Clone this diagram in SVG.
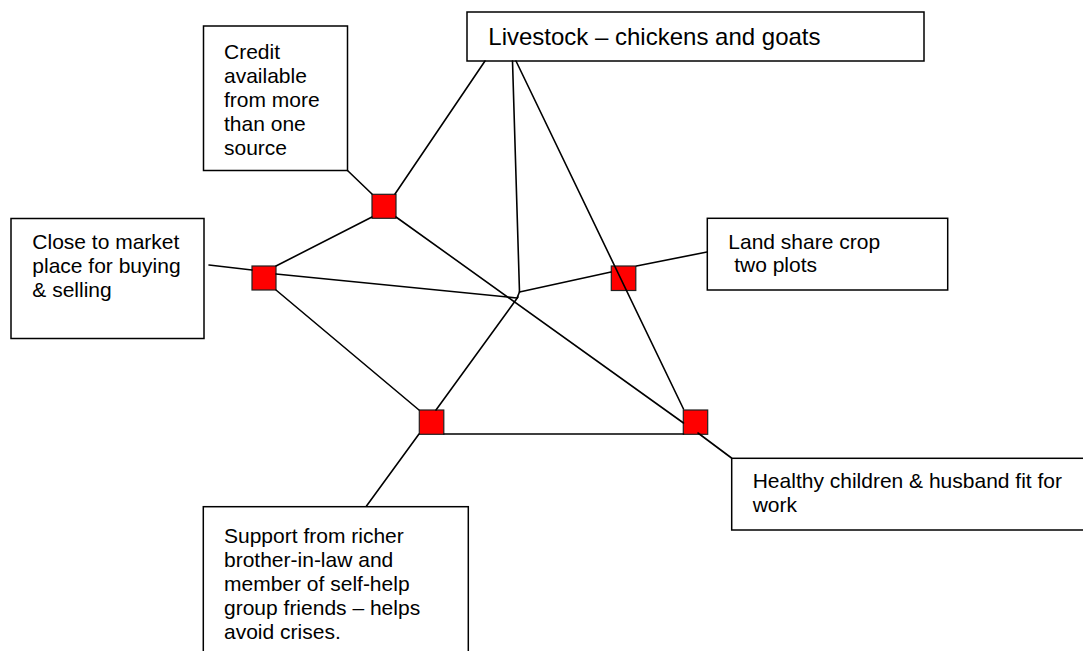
<svg xmlns="http://www.w3.org/2000/svg" width="1083" height="651" viewBox="0 0 1083 651">
<style>
.box{fill:#fff;stroke:#000;stroke-width:1.5}
.sq{fill:#ff0000;stroke:#222;stroke-width:1.2}
.t{font-family:"Liberation Sans",Arial,sans-serif;font-size:21px;fill:#000}
.big{font-size:24px}
.ln{stroke:#000;stroke-width:1.6;fill:none;stroke-linecap:round}
</style>
<rect width="1083" height="651" fill="#fff"/>
<g id="livestock">
<rect class="box" x="467" y="12" width="457" height="49"/>
<text class="t big" x="488.3" y="45">Livestock – chickens and goats</text>
</g>
<g id="credit">
<rect class="box" x="203.5" y="26" width="144" height="144.5"/>
<text class="t" x="224" y="59">Credit</text>
<text class="t" x="224" y="83">available</text>
<text class="t" x="224" y="107">from more</text>
<text class="t" x="224" y="131">than one</text>
<text class="t" x="224" y="155">source</text>
</g>
<g id="market">
<rect class="box" x="11" y="218.5" width="193" height="120"/>
<text class="t" x="32.3" y="248.5">Close to market</text>
<text class="t" x="32.3" y="272.8">place for buying</text>
<text class="t" x="32.3" y="297.3">&amp; selling</text>
</g>
<g id="land">
<rect class="box" x="707.3" y="218.3" width="240.4" height="71.7"/>
<text class="t" x="728.3" y="249.3" xml:space="preserve">Land share crop</text>
<text class="t" x="728.3" y="272.3" xml:space="preserve"> two plots</text>
</g>
<g id="healthy">
<rect class="box" x="731.7" y="458.3" width="360" height="71.7"/>
<text class="t" x="752.7" y="488.3">Healthy children &amp; husband fit for</text>
<text class="t" x="752.7" y="511.7">work</text>
</g>
<g id="support">
<rect class="box" x="203.3" y="506.7" width="265" height="160"/>
<text class="t" x="224" y="543.3">Support from richer</text>
<text class="t" x="224" y="567">brother-in-law and</text>
<text class="t" x="224" y="591">member of self-help</text>
<text class="t" x="224" y="615">group friends – helps</text>
<text class="t" x="224" y="639.3">avoid crises.</text>
</g>
<g id="sq-credit"><rect class="sq" x="372" y="194.3" width="24" height="24"/></g>
<g id="sq-market"><rect class="sq" x="252" y="266" width="24" height="24"/></g>
<g id="sq-land"><rect class="sq" x="611.3" y="266" width="24.5" height="24.5"/></g>
<g id="sq-support"><rect class="sq" x="419.3" y="410" width="24.5" height="24.3"/></g>
<g id="sq-healthy"><rect class="sq" x="683.3" y="410" width="24.4" height="24.3"/></g>
<g id="connectors">
<line class="ln" x1="485" y1="61" x2="395" y2="194"/>
<line class="ln" x1="512.5" y1="61" x2="519.5" y2="292"/>
<line class="ln" x1="516" y1="61" x2="683.5" y2="409"/>
<line class="ln" x1="519.5" y1="292" x2="517" y2="298"/>
<line class="ln" x1="519.5" y1="292" x2="611" y2="272"/>
<line class="ln" x1="636.5" y1="266" x2="707" y2="252"/>
<line class="ln" x1="396" y1="217" x2="683.5" y2="423"/>
<line class="ln" x1="347.5" y1="170.5" x2="372" y2="194"/>
<line class="ln" x1="276" y1="266" x2="372" y2="217"/>
<line class="ln" x1="209" y1="265" x2="252" y2="270"/>
<line class="ln" x1="276" y1="274" x2="517" y2="298"/>
<line class="ln" x1="276" y1="290" x2="419" y2="410"/>
<line class="ln" x1="436" y1="410" x2="518" y2="297"/>
<line class="ln" x1="444" y1="434" x2="683.5" y2="434"/>
<line class="ln" x1="419" y1="434" x2="366.5" y2="506"/>
<line class="ln" x1="698" y1="433" x2="731.5" y2="458"/>
</g>
</svg>
